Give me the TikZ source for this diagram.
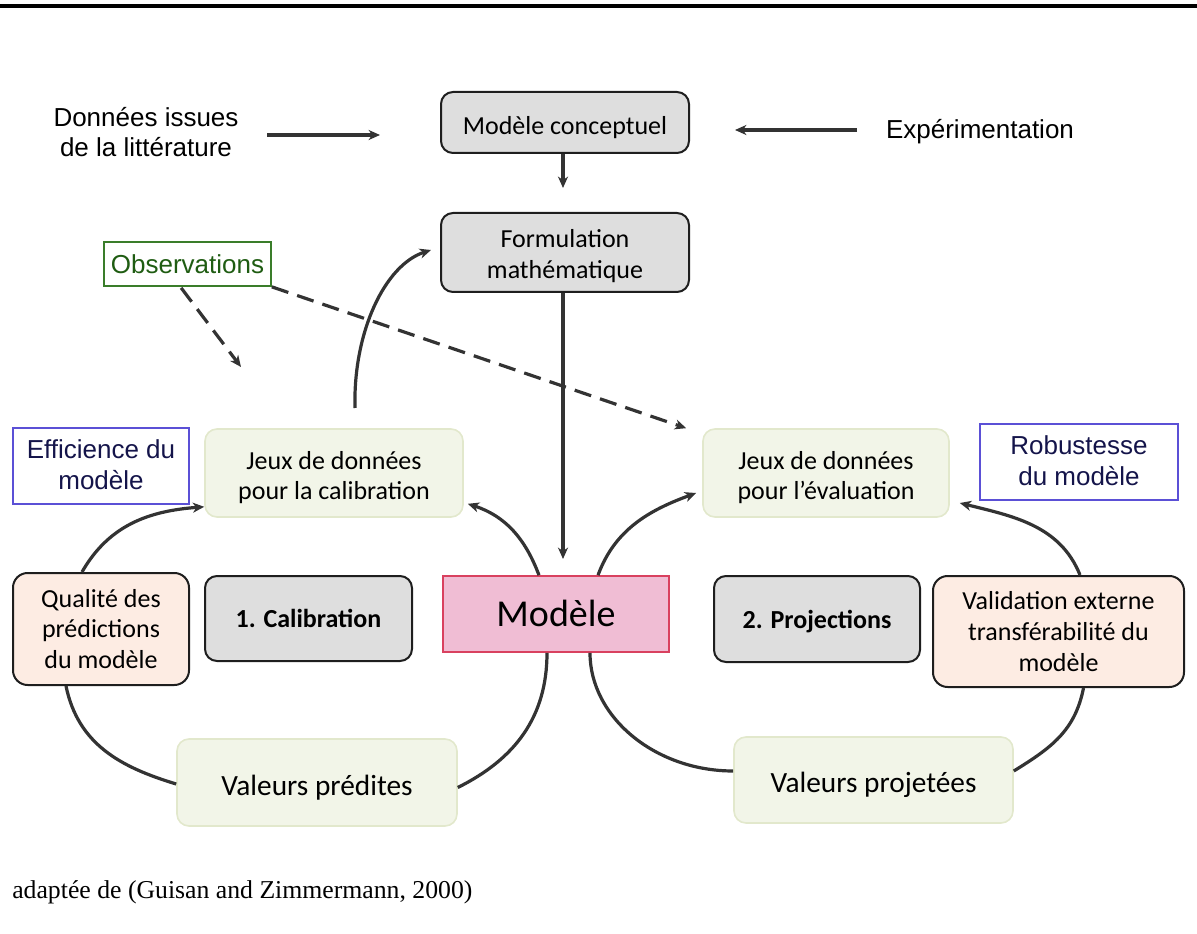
\documentclass[tikz,border=0pt]{standalone}
\usepackage{fontspec}
\setmainfont{Carlito}
\newfontfamily\arialf{Liberation Sans}
\newfontfamily\timesf{Liberation Serif}
\usetikzlibrary{arrows.meta,calc}
\definecolor{linec}{HTML}{333333}
\definecolor{grayfill}{HTML}{DEDEDE}
\definecolor{grayborder}{HTML}{1E1E1E}
\definecolor{greenfill}{HTML}{F2F5E8}
\definecolor{greenborder}{HTML}{E2E8CC}
\definecolor{peachfill}{HTML}{FDECE3}
\definecolor{pinkfill}{HTML}{F0BDD4}
\definecolor{pinkborder}{HTML}{D9415F}
\definecolor{purpborder}{HTML}{5B50D6}
\definecolor{navytext}{HTML}{14144A}
\definecolor{obsborder}{HTML}{3A7D2A}
\definecolor{obstext}{HTML}{1F5C12}
\newcommand{\lowtext}[2]{\raisebox{-#1}[\height][\depth]{\begin{tabular}{@{}c@{}}#2\end{tabular}}}
\begin{document}
\begin{tikzpicture}[x=0.75pt,y=-0.75pt,
  base/.style={inner sep=0pt, align=center, font=\fontsize{19.5}{23}\selectfont},
  graybox/.style={base, draw=grayborder, fill=grayfill, rounded corners=9pt, line width=1.5pt},
  greenbox/.style={base, draw=greenborder, fill=greenfill, rounded corners=9pt, line width=1.2pt},
  peachbox/.style={base, draw=grayborder, fill=peachfill, rounded corners=11pt, line width=1.5pt},
  purpbox/.style={base, draw=purpborder, line width=1.3pt, text=navytext, font=\arialf\fontsize{19.5}{23.5}\selectfont},
  plaintext/.style={base, font=\arialf\fontsize{19.5}{22.5}\selectfont},
  tip/.style={-{Stealth[length=8.5pt,width=7.5pt,inset=2.5pt]}},
  arr/.style={draw=linec, line width=2.4pt, tip},
  arc/.style={draw=linec, line width=2.4pt},
  arcarr/.style={arc, tip},
  dasharr/.style={draw=linec, line width=2.4pt, dash pattern=on 13pt off 7pt, tip}
]
\useasboundingbox (0,0) rectangle (1197,934);
\draw[line width=2.6pt, black] (0,6) -- (1197,6);

% top nodes
\node[plaintext] (lit) at (146,132) {Données issues\\de la littérature};
\node[graybox, minimum width=186pt, minimum height=45.75pt] (concept) at (565,122.5) {\lowtext{4.5pt}{Modèle conceptuel}};
\node[plaintext] (exp) at (980,132) {Expérimentation};
\node[graybox, minimum width=186pt, minimum height=59.25pt] (formul) at (565,252.5) {\lowtext{3.5pt}{Formulation\\mathématique}};
\node[base, draw=obsborder, line width=1.3pt, text=obstext, font=\arialf\fontsize{19.5}{23}\selectfont,
      minimum width=125.25pt, minimum height=33pt] (obs) at (187.5,264) {Observations};

% middle row
\node[purpbox, minimum width=132pt, minimum height=57pt] (effic) at (101,466) {\lowtext{1.5pt}{Efficience du\\modèle}};
\node[greenbox, minimum width=193.5pt, minimum height=66pt] (calib) at (334,473) {\lowtext{4pt}{Jeux de données\\pour la calibration}};
\node[greenbox, minimum width=184.5pt, minimum height=66pt] (eval) at (826,473) {\lowtext{4pt}{Jeux de données\\pour l’évaluation}};
\node[purpbox, minimum width=148.5pt, minimum height=57pt] (robust) at (1079,462) {\lowtext{1.5pt}{Robustesse\\du modèle}};

\node[peachbox, minimum width=132pt, minimum height=84pt] (qual) at (101,629) {\lowtext{2pt}{Qualité des\\prédictions\\du modèle}};
\node[graybox, minimum width=155.25pt, minimum height=63.75pt, font=\bfseries\fontsize{19.5}{23}\selectfont] (cal1) at (308.5,618.5) {\lowtext{2.2pt}{1. Calibration}};
\node[base, draw=pinkborder, fill=pinkfill, line width=1.2pt, minimum width=169.5pt, minimum height=57pt,
      font=\fontsize{28.5}{34}\selectfont] (modele) at (556,614) {\lowtext{2.2pt}{Modèle}};
\node[graybox, minimum width=154.5pt, minimum height=64.5pt, font=\bfseries\fontsize{19.5}{23}\selectfont] (proj2) at (817,619) {\lowtext{2.2pt}{2. Projections}};
\node[peachbox, minimum width=188.25pt, minimum height=83.25pt] (valid) at (1058.5,631.5) {\lowtext{2.2pt}{Validation externe\\transférabilité du\\modèle}};

\node[greenbox, minimum width=210pt, minimum height=65.25pt, font=\fontsize{22}{26}\selectfont] (vpred) at (317,782.5) {\lowtext{4.5pt}{Valeurs prédites}};
\node[greenbox, minimum width=209.25pt, minimum height=64.5pt, font=\fontsize{22}{26}\selectfont] (vproj) at (873.5,780) {\lowtext{4.5pt}{Valeurs projetées}};

\node[anchor=west, inner sep=0pt, font=\timesf\fontsize{19.3}{23}\selectfont] (caption) at (12,892) {adaptée de (Guisan and Zimmermann, 2000)};

% free ends
\coordinate (litA) at (267,135);
\coordinate (litB) at (380,135);
\coordinate (expA) at (857,130);
\coordinate (expB) at (735,130);
\coordinate (conB) at (563,188);
\coordinate (forA) at (563,292);
\coordinate (modT) at (563,559);
\coordinate (curA) at (355,408);
\coordinate (curB) at (431,250);
\coordinate (obsE1) at (241,367);

% straight arrows
\draw[arr] (litA) -- (litB);
\draw[arr] (expA) -- (expB);
\draw[arr] (concept.south -| conB) -- (conB);
\draw[arr] (formul.south -| forA) -- (modT);

% curve to formulation
\draw[arcarr] (curA) .. controls (353,332) and (385,265) .. (curB);

% dashed from observations
\draw[dasharr] ($(obs.south west)+(78,1)$) -- (obsE1);
\draw[dasharr] (obs.south east) -- ($(eval.north west)+(-16,0)$);

% left cycle
\draw[arcarr] ($(qual.north)+(-19,0)$) .. controls (109,525) and (149,511) .. ($(calib.south west)+(0,-11)$);
\draw[arcarr] ($(modele.north)+(-17,0)$) .. controls (525,538) and (505,516) .. ($(calib.south east)+(4,-14)$);
\draw[arc] ($(modele.south)+(-9,0)$) .. controls (547,717) and (515,759) .. ($(vpred.east)+(0,5)$);
\draw[arc] ($(vpred.west)+(0,1.5)$) .. controls (120,767) and (78,744) .. ($(qual.south)+(-35,0)$);

% right cycle
\draw[arcarr] ($(modele.north)+(42,0)$) .. controls (615,529) and (650,510) .. ($(eval.west)+(-6,20)$);
\draw[arcarr] ($(valid.north)+(21.5,0)$) .. controls (1060,525) and (1012,516) .. ($(eval.east)+(10,30)$);
\draw[arc] ($(modele.south)+(34,0)$) .. controls (590,717) and (655,771) .. ($(vproj.west)+(0,-9)$);
\draw[arc] ($(vproj.east)+(0,-9)$) .. controls (1051,748) and (1075,731) .. ($(valid.south)+(25,0)$);
\end{tikzpicture}
\end{document}
